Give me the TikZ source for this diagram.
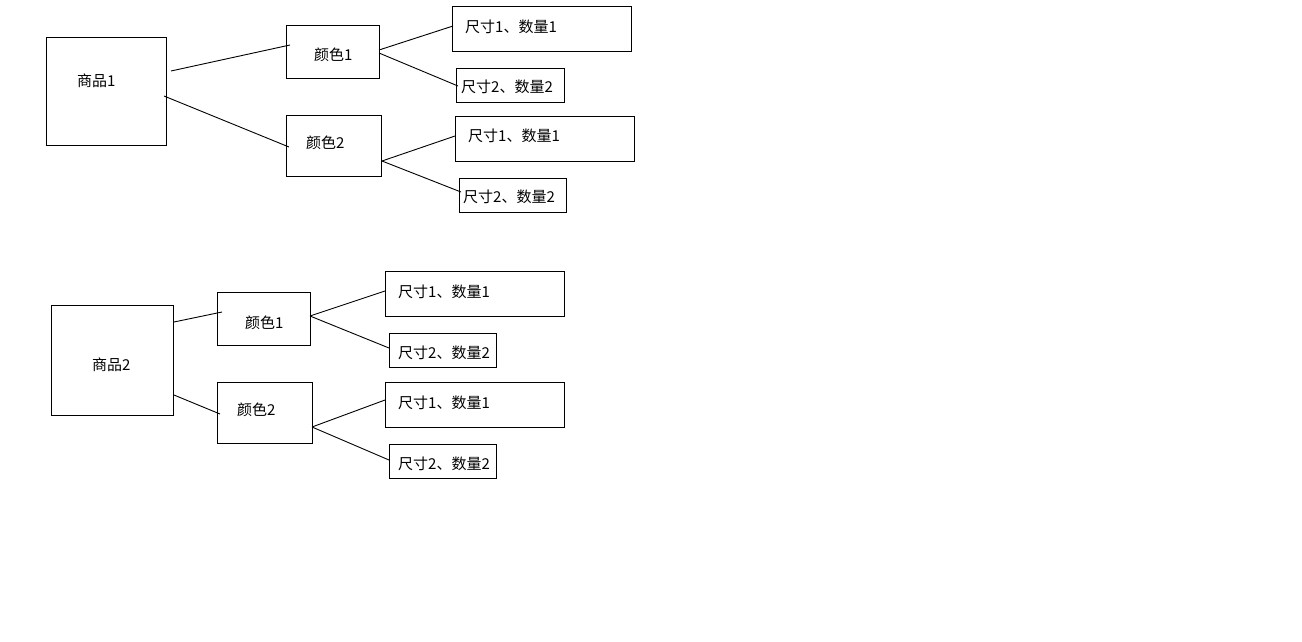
\documentclass[tikz,border=0pt]{standalone}
\usepackage{fontspec}
\setmainfont{Noto Sans CJK SC}
\begin{document}
\begin{tikzpicture}[x=1pt,y=-1pt,
  box/.style={draw=black,line width=1pt,inner sep=0pt,rectangle},
  lbl/.style={anchor=west,inner sep=0pt,font=\fontsize{15}{17}\selectfont,text=black},
  link/.style={draw=black,line width=0.9pt}]
\useasboundingbox[fill=white] (0,0) rectangle (1302,641);
% boxes
\node[box,minimum width=120,minimum height=108] (p1) at (106,91) {};
\node[box,minimum width=93,minimum height=53] (c11) at (332.5,51.5) {};
\node[box,minimum width=95,minimum height=61] (c12) at (333.5,145.5) {};
\node[box,minimum width=179,minimum height=45] (a1) at (541.5,28.5) {};
\node[box,minimum width=108,minimum height=34] (a2) at (510,85) {};
\node[box,minimum width=179,minimum height=45] (a3) at (544.5,138.5) {};
\node[box,minimum width=107,minimum height=34] (a4) at (512.5,195) {};
\node[box,minimum width=122,minimum height=110] (p2) at (112,360) {};
\node[box,minimum width=93,minimum height=53] (c21) at (263.5,318.5) {};
\node[box,minimum width=95,minimum height=61] (c22) at (264.5,412.5) {};
\node[box,minimum width=179,minimum height=45] (b1) at (474.5,293.5) {};
\node[box,minimum width=107,minimum height=34] (b2) at (442.5,350) {};
\node[box,minimum width=179,minimum height=45] (b3) at (474.5,404.5) {};
\node[box,minimum width=107,minimum height=34] (b4) at (442.5,461) {};
% texts
\node[lbl] (tp1) at (77,81) {商品1};
\node[lbl] (tc11) at (314,55) {颜色1};
\node[lbl] (tc12) at (306,143) {颜色2};
\node[lbl] (ta1) at (465,27) {尺寸1、数量1};
\node[lbl] (ta2) at (461,87) {尺寸2、数量2};
\node[lbl] (ta3) at (468,136) {尺寸1、数量1};
\node[lbl] (ta4) at (463,197) {尺寸2、数量2};
\node[lbl] (tp2) at (92,365) {商品2};
\node[lbl] (tc21) at (245,323) {颜色1};
\node[lbl] (tc22) at (237,410) {颜色2};
\node[lbl] (tb1) at (398,292) {尺寸1、数量1};
\node[lbl] (tb2) at (398,353) {尺寸2、数量2};
\node[lbl] (tb3) at (398,403) {尺寸1、数量1};
\node[lbl] (tb4) at (398,464) {尺寸2、数量2};
% connectors
\draw[link] ([shift={(65,-20)}]p1.center) -- ([shift={(-42.5,-6.5)}]c11.center);
\draw[link] ([shift={(58,5)}]p1.center) -- ([shift={(-44.5,1.5)}]c12.center);
\draw[link] ([shift={(46.5,-1.5)}]c11.center) -- ([shift={(-88.5,-2.5)}]a1.center);
\draw[link] ([shift={(46.5,1.5)}]c11.center) -- ([shift={(-52,1)}]a2.center);
\draw[link] ([shift={(48.5,15.5)}]c12.center) -- ([shift={(-89.5,-2.5)}]a3.center);
\draw[link] ([shift={(48.5,15.5)}]c12.center) -- ([shift={(-51.5,-3)}]a4.center);
\draw[link] ([shift={(62,-38)}]p2.center) -- ([shift={(-41.5,-6.5)}]c21.center);
\draw[link] ([shift={(62,35)}]p2.center) -- ([shift={(-44.5,1.5)}]c22.center);
\draw[link] ([shift={(46.5,-2.5)}]c21.center) -- ([shift={(-89.5,-2.5)}]b1.center);
\draw[link] ([shift={(46.5,-2.5)}]c21.center) -- ([shift={(-53.5,-2)}]b2.center);
\draw[link] ([shift={(47.5,14.5)}]c22.center) -- ([shift={(-89.5,-4.5)}]b3.center);
\draw[link] ([shift={(47.5,14.5)}]c22.center) -- ([shift={(-53.5,-1)}]b4.center);
\end{tikzpicture}
\end{document}
